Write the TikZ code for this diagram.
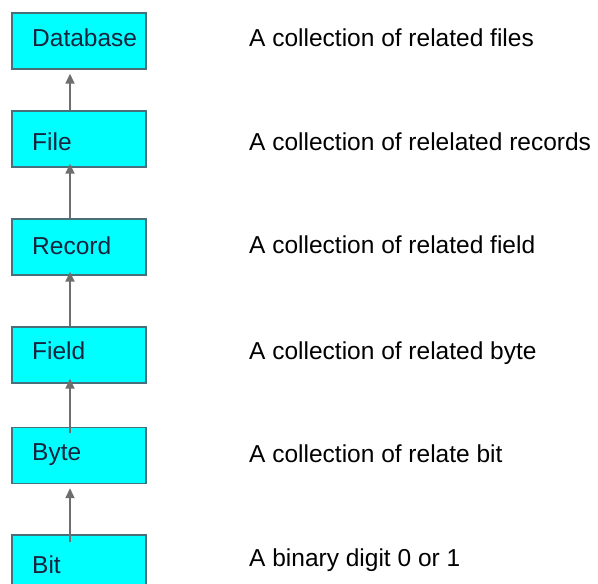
\documentclass[tikz,border=0pt]{standalone}
\usepackage{fontspec}
\setmainfont{Liberation Sans}
\usetikzlibrary{arrows.meta}

\definecolor{boxfill}{RGB}{0,255,255}
\definecolor{boxline}{RGB}{72,112,122}
\definecolor{boxtext}{RGB}{22,36,62}
\definecolor{arrowgray}{RGB}{110,110,110}

\tikzset{
  levelbox/.style={draw=boxline, line width=1.4pt, fill=boxfill,
    minimum width=134pt, minimum height=56pt, inner sep=0pt},
  boxlabel/.style={anchor=base west, inner sep=0pt, text=boxtext,
    font=\fontsize{24.5}{28}\selectfont},
  desc/.style={anchor=base west, inner sep=0pt, text=black,
    font=\fontsize{24.5}{28}\selectfont},
  uparrow/.style={draw=arrowgray, line width=1.8pt,
    -{Triangle[width=9pt,length=10pt]}}
}

\begin{document}
\begin{tikzpicture}[x=1pt, y=-1pt]
  \useasboundingbox (0,0) rectangle (598,584);

  % hierarchy boxes
  \node[levelbox] (db)     at (79,41)    {};
  \node[levelbox] (file)   at (79,139)   {};
  \node[levelbox] (record) at (79,247)   {};
  \node[levelbox] (field)  at (79,355)   {};
  \node[levelbox] (byte)   at (79,455.5) {};
  \node[levelbox] (bit)    at (79,563)   {};

  % box captions
  \node[boxlabel] (dbt)     at (32,46)  {Database};
  \node[boxlabel] (filet)   at (32,150) {File};
  \node[boxlabel] (recordt) at (32,254) {Record};
  \node[boxlabel] (fieldt)  at (32,359) {Field};
  \node[boxlabel] (bytet)   at (32,460) {Byte};
  \node[boxlabel] (bitt)    at (32,573) {Bit};

  % upward links between levels
  \draw[uparrow] ([xshift=-9pt]file.north)   -- ([xshift=-9pt,yshift=-4pt]db.south);
  \draw[uparrow] ([xshift=-9pt]record.north) -- ([xshift=-9pt,yshift=4pt]file.south);
  \draw[uparrow] ([xshift=-9pt]field.north)  -- ([xshift=-9pt,yshift=4pt]record.south);
  \draw[uparrow] ([xshift=-9pt,yshift=-6pt]byte.north) -- ([xshift=-9pt,yshift=5pt]field.south);
  \draw[uparrow] ([xshift=-9pt,yshift=-8pt]bit.north)  -- ([xshift=-9pt,yshift=-4pt]byte.south);

  % descriptions
  \node[desc] (d1) at (249,46)  {A collection of related files};
  \node[desc] (d2) at (249,150) {A collection of relelated records};
  \node[desc] (d3) at (249,253) {A collection of related field};
  \node[desc] (d4) at (249,359) {A collection of related byte};
  \node[desc] (d5) at (249,462) {A collection of relate bit};
  \node[desc] (d6) at (249,566) {A binary digit 0 or 1};
\end{tikzpicture}
\end{document}
